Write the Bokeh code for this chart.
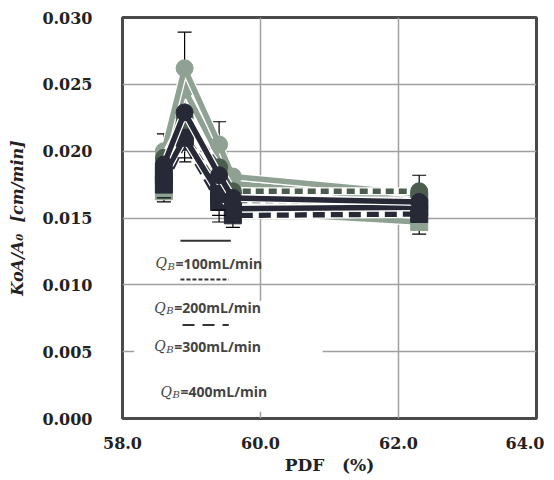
from bokeh.plotting import figure
from bokeh.models import Range1d, FixedTicker, NumeralTickFormatter, Whisker, ColumnDataSource, TeeHead
from bokeh.core.properties import value
from bokeh.embed import file_html
from bokeh.resources import INLINE

# ---- data ----
pdf = [58.6, 58.9, 59.4, 59.6, 62.3]

light_c1 = [0.0200, 0.0262, 0.0205, 0.0181, 0.0168]
light_c2 = [0.0193, 0.0246, 0.0196, 0.0176, 0.0163]
light_s1 = [0.0170, 0.0213, 0.0170, 0.0155, 0.0147]
mid_c1 = [0.0195, 0.0225, 0.0188, 0.0170, 0.0170]
mid_s1 = [0.0185, 0.0212, 0.0172, 0.0163, 0.0163]
dark_c1 = [0.0190, 0.0229, 0.0182, 0.0165, 0.0162]
dark_s1 = [0.0182, 0.0210, 0.0168, 0.0157, 0.0158]
dark_s2 = [0.0175, 0.0207, 0.0162, 0.0152, 0.0153]

err_x = [58.6, 58.9, 59.4, 59.6, 62.3]
err_low = [0.0162, 0.0192, 0.0147, 0.0143, 0.0138]
err_high = [0.0213, 0.0289, 0.0222, 0.0160, 0.0182]
cap_x = [58.6, 58.9, 59.4, 59.4]
cap_y = [0.0165, 0.0195, 0.0152, 0.0156]

x_ticks = [58.0, 60.0, 62.0, 64.0]
y_ticks = [0.000, 0.005, 0.010, 0.015, 0.020, 0.025, 0.030]

legend_flows = ["=100mL/min", "=200mL/min", "=300mL/min", "=400mL/min"]
legend_text_x = [58.48, 58.46, 58.46, 58.55]
legend_text_y = [0.0116, 0.0083, 0.0054, 0.0020]
legend_sample_y = [0.0133, 0.0104, 0.0070]
legend_sample_x0 = [58.84, 58.84, 58.87]
legend_sample_x1 = [59.57, 59.54, 59.54]
legend_dash = ["solid", "4 2", "12 8"]

LIGHT = "#8FA193"
MID = "#4B5D4F"
DARK = "#272A36"

p = figure(frame_width=414, frame_height=401, min_border_left=122, min_border_right=8,
           min_border_top=17, min_border_bottom=54, output_backend="svg", toolbar_location=None,
           x_range=Range1d(58, 64), y_range=Range1d(0, 0.030))

p.outline_line_color = "#4a4a4a"
p.outline_line_width = 3
p.background_fill_color = "white"
p.border_fill_color = "white"

p.xgrid.grid_line_color = "#a0a0a0"
p.ygrid.grid_line_color = "#a0a0a0"
p.xgrid.grid_line_width = 1.5
p.ygrid.grid_line_width = 1.5
p.xaxis.ticker = FixedTicker(ticks=x_ticks)
p.yaxis.ticker = FixedTicker(ticks=y_ticks)
p.xaxis.formatter = NumeralTickFormatter(format="0.0")
p.yaxis.formatter = NumeralTickFormatter(format="0.000")

for ax in (p.xaxis, p.yaxis):
    ax.axis_line_color = None
    ax.major_tick_line_color = None
    ax.minor_tick_line_color = None
    ax.major_label_text_font = "DejaVu Serif"
    ax.major_label_text_font_style = "bold"
    ax.major_label_text_font_size = "16px"
    ax.major_label_text_color = "#222222"
    ax.axis_label_text_font = "DejaVu Serif"
    ax.axis_label_text_color = "#222222"

p.yaxis.major_label_standoff = 24
p.xaxis.major_label_standoff = 12
p.xaxis.axis_label = "PDF\u00a0\u00a0\u00a0(%)"
p.xaxis.axis_label_text_font_style = "bold"
p.xaxis.axis_label_text_font_size = "17px"
p.xaxis.axis_label_standoff = 3
p.yaxis.axis_label = "KoA/A\u2080\u00a0\u00a0[cm/min]"
p.yaxis.axis_label_text_font_style = "bold italic"
p.yaxis.axis_label_text_font_size = "16px"
p.yaxis.axis_label_standoff = 12

# white legend backdrop
p.quad(left=[58.17], right=[60.9], bottom=[0.0005], top=[0.0088], fill_color="white", line_color=None)

series = [
    (light_c2, LIGHT, "solid", "circle"),
    (light_s1, LIGHT, "solid", "square"),
    (light_c1, LIGHT, "solid", "circle"),
    (mid_c1, MID, "8 5", "circle"),
    (mid_s1, MID, "8 5", "square"),
    (dark_s2, DARK, "12 6", "square"),
    (dark_s1, DARK, "solid", "square"),
    (dark_c1, DARK, "solid", "circle"),
]
for ys, col, dash, mk in series:
    p.line(pdf, ys, line_color="white", line_width=8)
    p.line(pdf, ys, line_color=col, line_width=5.5, line_dash=dash)
    p.scatter(pdf, ys, marker=mk, size=17, fill_color=col, line_color=col)

src = ColumnDataSource(dict(x=err_x, lo=err_low, hi=err_high))
p.add_layout(Whisker(source=src, base="x", lower="lo", upper="hi", line_color="black", line_width=1.2,
                     upper_head=TeeHead(size=14, line_color="black", line_width=1.2),
                     lower_head=TeeHead(size=14, line_color="black", line_width=1.2)))
p.scatter(cap_x, cap_y, marker="dash", size=14, line_color="black", line_width=1.2)

# legend samples
for i in range(3):
    p.line([legend_sample_x0[i], legend_sample_x1[i]], [legend_sample_y[i]] * 2,
           line_color="#333333", line_width=2, line_dash=legend_dash[i])

p.text(x=legend_text_x, y=legend_text_y, text=["Q"] * 4, text_font=value("DejaVu Serif"),
       text_font_style="italic", text_font_size="14px", text_color="#444444", text_baseline="middle")
p.text(x=legend_text_x, y=legend_text_y, text=["B"] * 4, x_offset=12, y_offset=3,
       text_font=value("DejaVu Serif"), text_font_style="italic", text_font_size="10px",
       text_color="#444444", text_baseline="middle")
p.text(x=legend_text_x, y=legend_text_y, text=legend_flows, x_offset=20,
       text_font=value("Open Sans"), text_font_style="bold", text_font_size="14px",
       text_color="#444444", text_baseline="middle")

open("out.html", "w").write(file_html(p, INLINE))
